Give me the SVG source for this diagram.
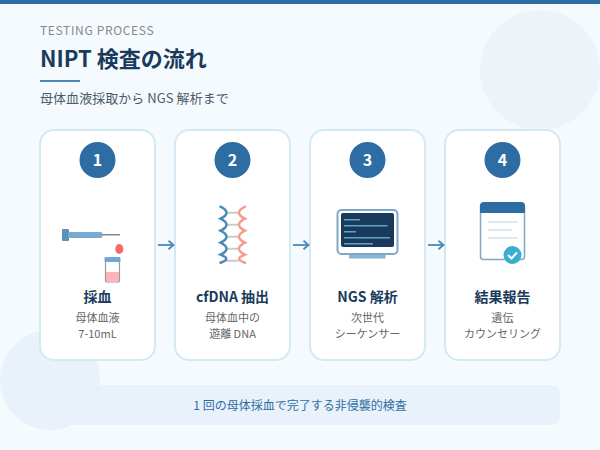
<svg xmlns="http://www.w3.org/2000/svg" width="600" height="450" viewBox="0 0 600 450">
<defs>
<marker id="ah" markerUnits="userSpaceOnUse" markerWidth="10" markerHeight="12" refX="8.500" refY="5" orient="auto"><path d="M3.500 0.800L8.500 5L3.500 9.200" fill="none" stroke="#4a8ab5" stroke-width="1.800"/></marker>
</defs>
<style>
text{font-family:"Noto Sans CJK JP","Noto Sans",sans-serif}
.card{fill:#fff;stroke:#d4e9f4;stroke-width:2}
.num{fill:#2e6da4}
.numt{fill:#fff;font-size:16px;font-weight:700;text-anchor:middle}
.ttl{fill:#1a3a5c;font-size:14px;font-weight:700;text-anchor:middle}
.sub{fill:#666;font-size:11px;text-anchor:middle}
.conn{stroke:#4a8ab5;stroke-width:1.800;fill:none;marker-end:url(#ah)}
</style>
<rect width="600" height="450" fill="#f5fafe"/>
<rect width="600" height="4" fill="#2e6da4"/>
<circle cx="540" cy="70" r="60" fill="#e8f2f8" opacity=".75"/>
<circle cx="50" cy="380" r="50" fill="#e9f1fa"/>
<text x="40" y="35" font-size="12" letter-spacing=".65" fill="#888">TESTING PROCESS</text>
<text x="40" y="67" font-size="22" font-weight="700" fill="#1a3a5c">NIPT 検査の流れ</text>
<rect x="40" y="80" width="40" height="2" fill="#4a8ab5"/>
<text x="40" y="103" font-size="13" letter-spacing=".05" fill="#4a5a6a">母体血液採取から NGS 解析まで</text>
<g id="node-1">
<rect class="card" x="40" y="130" width="115" height="230" rx="14"/>
<circle class="num" cx="97.500" cy="160" r="18"/><text class="numt" x="97.500" y="166">1</text>
<rect x="62" y="229" width="7" height="12" rx="1" fill="#5a93b8"/>
<rect x="68" y="232" width="34.500" height="6" rx="2" fill="#78aad2"/>
<rect x="102" y="234" width="18" height="1.500" fill="#888"/>
<ellipse cx="119.300" cy="249" rx="4" ry="5" fill="#f56b6b"/>
<rect x="105.500" y="258" width="14" height="24" rx="2" fill="#fff" stroke="#999" stroke-width="1.200"/>
<path d="M106 272H119V280a1.500 1.500 0 0 1-1.500 1.500H107.500a1.500 1.500 0 0 1-1.500-1.500Z" fill="#ffb3ba"/>
<rect x="104.500" y="257" width="16" height="5" rx="1" fill="#6fa8d6"/>
<text class="ttl" x="97.500" y="302">採血</text>
<text class="sub" x="97.500" y="322">母体血液</text><text class="sub" x="97.500" y="338">7-10mL</text>
</g>
<g id="node-2">
<rect class="card" x="175" y="130" width="115" height="230" rx="14"/>
<circle class="num" cx="232.500" cy="160" r="18"/><text class="numt" x="232.500" y="166">2</text>
<path d="M226 212.700H239M226 224.700H239M226 236.700H239M226 248.700H239M226 260.700H239" stroke="#ccc" stroke-width="2"/>
<path d="M220.500 206.700Q232.500 212.700 220.500 218.700Q232.500 224.700 220.500 230.700Q232.500 236.700 220.500 242.700Q232.500 248.700 220.500 254.700Q232 259 220.500 262.700" fill="none" stroke="#4a8ab5" stroke-width="2.500" stroke-linecap="round"/>
<path d="M245 206.700Q233 212.700 245 218.700Q233 224.700 245 230.700Q233 236.700 245 242.700Q233 248.700 245 254.700Q233.500 259 245 262.700" fill="none" stroke="#f59a8f" stroke-width="2.500" stroke-linecap="round"/>
<text class="ttl" x="232.500" y="302">cfDNA 抽出</text>
<text class="sub" x="232.500" y="322">母体血中の</text><text class="sub" x="232.500" y="338">遊離 DNA</text>
</g>
<g id="node-3">
<rect class="card" x="310" y="130" width="115" height="230" rx="14"/>
<circle class="num" cx="367.500" cy="160" r="18"/><text class="numt" x="367.500" y="166">3</text>
<rect x="337.500" y="210" width="60" height="44" rx="4" fill="#fff" stroke="#7fa9ca" stroke-width="2"/>
<rect x="341" y="213" width="53" height="34" rx="2" fill="#1a3a5c"/>
<rect x="349" y="255" width="36.500" height="3.500" fill="#8ab4d4"/>
<g fill="#5fa3c7"><rect x="344" y="219" width="16" height="1.500"/><rect x="344" y="225" width="43.500" height="1.500"/><rect x="344" y="231" width="12" height="1.500"/><rect x="344" y="237" width="46" height="1.500"/><rect x="344" y="243" width="29" height="1.500"/></g>
<text class="ttl" x="367.500" y="302">NGS 解析</text>
<text class="sub" x="367.500" y="322">次世代</text><text class="sub" x="367.500" y="338">シーケンサー</text>
</g>
<g id="node-4">
<rect class="card" x="445" y="130" width="115" height="230" rx="14"/>
<circle class="num" cx="502.500" cy="160" r="18"/><text class="numt" x="502.500" y="166">4</text>
<rect x="480.500" y="203.500" width="44" height="56" rx="3" fill="#fff" stroke="#7fa9ca" stroke-width="1.500"/>
<path d="M480 213V206a4 4 0 0 1 4-4H521a4 4 0 0 1 4 4V213Z" fill="#2e6da4"/>
<g fill="#dbe8f0"><rect x="488" y="221" width="30" height="2"/><rect x="488" y="229" width="24" height="2"/><rect x="488" y="237" width="30" height="2"/></g>
<circle cx="512.500" cy="255" r="9" fill="#3aaed0"/>
<path d="M508 255L511.500 258.500L517 252.500" fill="none" stroke="#fff" stroke-width="2"/>
<text class="ttl" x="502.500" y="302">結果報告</text>
<text class="sub" x="502.500" y="322">遺伝</text><text class="sub" x="502.500" y="338">カウンセリング</text>
</g>
<g id="connectors">
<path class="conn" d="M158 245H173.500"/><path class="conn" d="M293 245H308.500"/><path class="conn" d="M428 245H443.500"/>
</g>
<g id="banner">
<rect x="40" y="385" width="520" height="40" rx="8" fill="#e8f0fa" fill-opacity=".9"/>
<text x="300" y="410" font-size="12" fill="#2e6da4" text-anchor="middle">1 回の母体採血で完了する非侵襲的検査</text>
</g>
</svg>
